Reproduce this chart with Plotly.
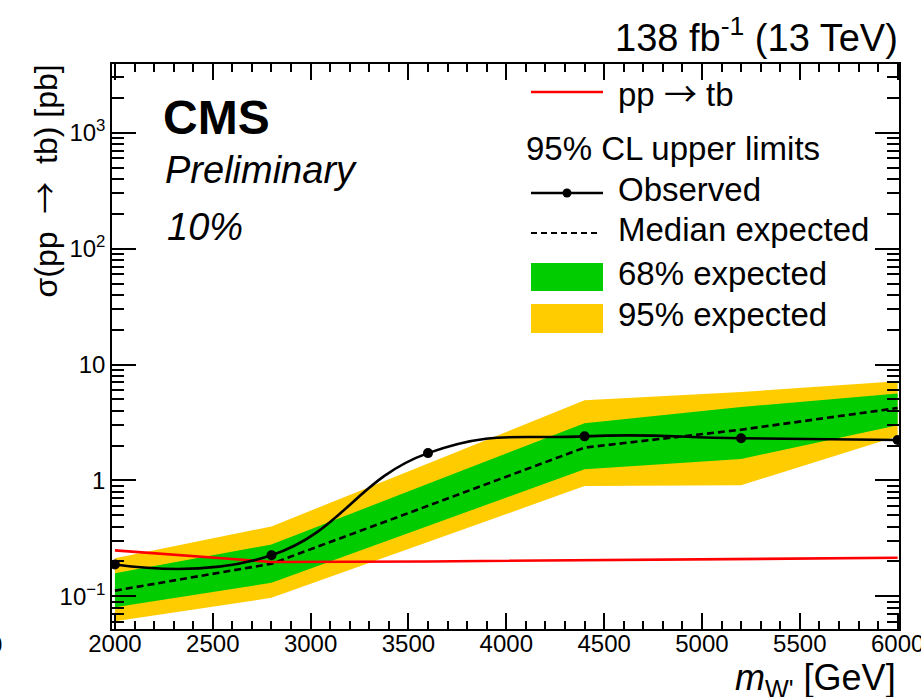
import plotly.graph_objects as go

# W' -> tb cross-section limits (pb) versus W' mass (GeV)
masses = [2000, 2800, 3600, 4400, 5200, 6000]
observed = [0.188, 0.226, 1.72, 2.40, 2.31, 2.23]
expected = [0.112, 0.191, 0.604, 1.92, 2.74, 4.21]
exp68_lo = [0.0805, 0.131, 0.405, 1.25, 1.53, 2.99]
exp68_hi = [0.158, 0.280, 0.935, 3.12, 4.30, 5.61]
exp95_lo = [0.061, 0.097, 0.294, 0.893, 0.91, 2.40]
exp95_hi = [0.213, 0.401, 1.40, 4.91, 5.79, 7.16]
theory = [0.249, 0.198, 0.200, 0.205, 0.210, 0.215]

y_tick_vals = [0.1, 1, 10, 100, 1000]
y_tick_text = ["10<sup>\u22121</sup>", "1", "10", "10<sup>2</sup>", "10<sup>3</sup>"]

GREEN = "#00cc00"
YELLOW = "#ffcc00"
RED = "#ff0000"
FONT = "Liberation Sans, Arial, Helvetica, sans-serif"
ARROW = '<span style="font-family:Noto Sans CJK JP">\u2192</span>'

W, H = 921, 697
ML, MR, MT, MB = 112, 22, 64, 68
PW, PH = W - ML - MR, H - MT - MB


def px(xp):
    return (xp - ML) / PW


def py(yp):
    return (H - MB - yp) / PH


fig = go.Figure()

# 95% and 68% expected bands as closed polygons
fig.add_trace(go.Scatter(
    x=masses + masses[::-1], y=exp95_hi + exp95_lo[::-1],
    fill="toself", fillcolor=YELLOW, line=dict(width=0),
    mode="lines", hoverinfo="skip", showlegend=False))
fig.add_trace(go.Scatter(
    x=masses + masses[::-1], y=exp68_hi + exp68_lo[::-1],
    fill="toself", fillcolor=GREEN, line=dict(width=0),
    mode="lines", hoverinfo="skip", showlegend=False))

# median expected
fig.add_trace(go.Scatter(
    x=masses, y=expected, mode="lines",
    line=dict(color="black", width=2.6, dash="7px,4px"), showlegend=False))

# theory cross section
fig.add_trace(go.Scatter(
    x=masses, y=theory, mode="lines",
    line=dict(color=RED, width=2.6), showlegend=False))

# observed limit
fig.add_trace(go.Scatter(
    x=masses, y=observed, mode="lines+markers",
    line=dict(color="black", width=2.6, shape="spline", smoothing=1.3),
    marker=dict(color="black", size=10), showlegend=False))

y_minor = []
for dec in [0.01, 0.1, 1, 10, 100, 1000]:
    for k in range(2, 10):
        y_minor.append(k * dec)

axis_common = dict(
    showline=True, linecolor="black", linewidth=1.5, mirror="allticks",
    ticks="inside", tickcolor="black", tickwidth=1.5,
    showgrid=False, zeroline=False, ticklabeloverflow="allow",
    tickfont=dict(family=FONT, size=24, color="black"),
)

fig.update_xaxes(
    range=[1985, 6007], dtick=500, tick0=0, ticklen=16,
    ticklabelstandoff=-8,
    minor=dict(ticks="inside", dtick=100, tick0=0, ticklen=8,
               tickcolor="black", tickwidth=1.5, showgrid=False),
    **axis_common)
fig.update_yaxes(
    type="log", range=[-1.282, 3.593],
    tickvals=y_tick_vals, ticktext=y_tick_text, ticklen=24,
    minor=dict(ticks="inside", tickvals=y_minor, ticklen=12,
               tickcolor="black", tickwidth=1.5, showgrid=False),
    **axis_common)

ann = []


def text(xp, yp, s, size, xanchor="left", yanchor="middle", **kw):
    ann.append(dict(
        x=px(xp), y=py(yp), xref="paper", yref="paper", text=s,
        showarrow=False, xanchor=xanchor, yanchor=yanchor,
        font=dict(family=FONT, size=size, color="black"), **kw))


text(161, 118, "<b>CMS</b>", 48)
text(163, 170, "<i>Preliminary</i>", 38)
text(165, 227, "<i>10%</i>", 38)

text(900, 35, "138 fb<sup>-1</sup> (13 TeV)", 38, xanchor="right")
text(898, 680, "<i>m</i><sub>W'</sub> [GeV]", 36, xanchor="right")
text(42, 63, "\u03c3(pp\u00a0\u00a0" + ARROW + "\u00a0\u00a0tb) [pb]", 32,
     xanchor="center", yanchor="top", textangle=-90)
text(4, 644, "0", 24, xanchor="right")

# legend entries
text(616, 92, "pp " + ARROW + " tb", 33)
text(524, 148, "95% CL upper limits", 33)
text(616, 189, "Observed", 33)
text(616, 230, "Median expected", 33)
text(616, 273, "68% expected", 33)
text(616, 314, "95% expected", 33)

shapes = [
    dict(type="line", xref="paper", yref="paper", x0=px(531), x1=px(603),
         y0=py(92), y1=py(92), line=dict(color=RED, width=2.5)),
    dict(type="line", xref="paper", yref="paper", x0=px(531), x1=px(603),
         y0=py(193), y1=py(193), line=dict(color="black", width=2.5)),
    dict(type="circle", xref="paper", yref="paper", x0=px(562.5), x1=px(571.5),
         y0=py(188.5), y1=py(197.5), fillcolor="black", line=dict(width=0)),
    dict(type="line", xref="paper", yref="paper", x0=px(531), x1=px(600),
         y0=py(233), y1=py(233), line=dict(color="black", width=2, dash="6px,4px")),
    dict(type="rect", xref="paper", yref="paper", x0=px(531), x1=px(603),
         y0=py(291), y1=py(263), fillcolor=GREEN, line=dict(width=0)),
    dict(type="rect", xref="paper", yref="paper", x0=px(531), x1=px(603),
         y0=py(333), y1=py(304), fillcolor=YELLOW, line=dict(width=0)),
]

fig.update_layout(
    width=W, height=H,
    margin=dict(l=ML, r=MR, t=MT, b=MB, autoexpand=False),
    paper_bgcolor="white", plot_bgcolor="white",
    annotations=ann, shapes=shapes, showlegend=False,
    font=dict(family=FONT, color="black"),
)

fig.write_html("out.html")
